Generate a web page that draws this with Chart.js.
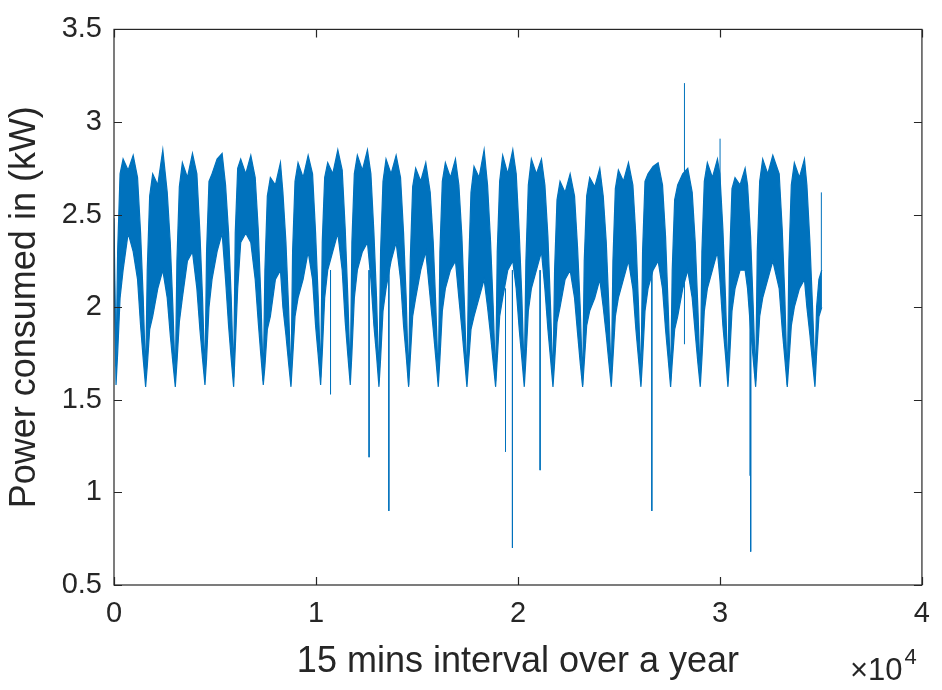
<!DOCTYPE html>
<html>
<head>
<meta charset="utf-8">
<script src="https://cdn.jsdelivr.net/npm/chart.js@4.4.0/dist/chart.umd.min.js"></script>
<style>
  html, body { margin: 0; padding: 0; background: #fff; }
</style>
</head>
<body>
<canvas id="powerChart" width="942" height="690"></canvas>
<script>
// tick values (x ticks are in units of 10^4 samples)
const xTicks = [0, 1, 2, 3, 4];
const yTicks = [0.5, 1, 1.5, 2, 2.5, 3, 3.5];

// outline of the dense load trace: sample index, upper edge, lower edge (kW)
// one row per weekly-ish cycle, starting at its dip
const bandX = [
    0,
    100, 180, 300, 450, 700, 950, 1166, 1316, 1446,
    1566, 1646, 1766, 1916, 2166, 2416, 2635, 2785, 2915,
    3035, 3115, 3235, 3385, 3635, 3885, 4103, 4253, 4383,
    4503, 4583, 4703, 4853, 5103, 5353, 5523, 5673, 5803,
    5923, 6003, 6123, 6273, 6523, 6773, 6991, 7141, 7271,
    7391, 7471, 7591, 7741, 7991, 8241, 8362, 8512, 8642,
    8762, 8842, 8962, 9112, 9362, 9612, 9830, 9980, 10110,
    10230, 10310, 10430, 10580, 10830, 11080, 11298, 11448, 11578,
    11698, 11778, 11898, 12048, 12298, 12548, 12718, 12868, 12998,
    13118, 13198, 13318, 13468, 13718, 13968, 14186, 14336, 14466,
    14586, 14666, 14786, 14936, 15186, 15436, 15655, 15805, 15935,
    16055, 16135, 16255, 16405, 16655, 16905, 17074, 17224, 17354,
    17474, 17554, 17674, 17824, 18074, 18324, 18494, 18644, 18774,
    18894, 18974, 19094, 19244, 19494, 19744, 19913, 20063, 20193,
    20313, 20393, 20513, 20663, 20913, 21163, 21333, 21483, 21613,
    21733, 21813, 21933, 22083, 22333, 22583, 22801, 22951, 23081,
    23201, 23281, 23401, 23551, 23801, 24051, 24221, 24371, 24501,
    24621, 24701, 24821, 24971, 25221, 25471, 25689, 25839, 25969,
    26089, 26169, 26289, 26439, 26689, 26939, 27157, 27307, 27437,
    27557, 27637, 27757, 27907, 28157, 28407, 28626, 28776, 28906,
    29026, 29106, 29226, 29376, 29626, 29876, 29996, 30146, 30276,
    30396, 30476, 30596, 30746, 30996, 31246, 31367, 31517, 31647,
    31767, 31847, 31967, 32117, 32367, 32617, 32933, 33083, 33213,
    33333, 33413, 33533, 33683, 33933, 34183, 34304, 34454, 34584,
    34704, 34784, 34900, 35040
];
const bandHigh = [
    2.48,
    1.68, 2.30, 2.72, 2.80, 2.74, 2.82, 2.70, 2.40, 2.05,
    1.62, 2.20, 2.60, 2.72, 2.66, 2.85, 2.62, 2.35, 2.00,
    1.60, 2.25, 2.65, 2.78, 2.70, 2.83, 2.72, 2.40, 2.05,
    1.62, 2.30, 2.68, 2.72, 2.80, 2.83, 2.66, 2.40, 2.05,
    1.62, 2.40, 2.75, 2.80, 2.72, 2.82, 2.70, 2.42, 2.05,
    1.60, 2.20, 2.60, 2.70, 2.66, 2.78, 2.62, 2.35, 2.00,
    1.60, 2.30, 2.68, 2.78, 2.70, 2.82, 2.72, 2.40, 2.05,
    1.62, 2.35, 2.70, 2.78, 2.72, 2.85, 2.74, 2.42, 2.05,
    1.62, 2.35, 2.72, 2.82, 2.74, 2.85, 2.72, 2.40, 2.05,
    1.60, 2.30, 2.68, 2.80, 2.72, 2.82, 2.70, 2.40, 2.05,
    1.58, 2.25, 2.65, 2.75, 2.68, 2.78, 2.62, 2.35, 2.00,
    1.60, 2.30, 2.68, 2.78, 2.70, 2.80, 2.66, 2.38, 2.00,
    1.60, 2.20, 2.62, 2.76, 2.70, 2.85, 2.66, 2.35, 2.00,
    1.60, 2.30, 2.68, 2.82, 2.72, 2.85, 2.72, 2.40, 2.05,
    1.62, 2.25, 2.66, 2.80, 2.72, 2.80, 2.66, 2.38, 2.00,
    1.60, 2.20, 2.58, 2.68, 2.62, 2.72, 2.60, 2.32, 2.00,
    1.58, 2.25, 2.60, 2.70, 2.65, 2.75, 2.60, 2.35, 2.00,
    1.60, 2.25, 2.64, 2.74, 2.68, 2.78, 2.66, 2.38, 2.00,
    1.60, 2.30, 2.68, 2.72, 2.76, 2.78, 2.66, 2.38, 2.00,
    1.60, 2.20, 2.58, 2.66, 2.72, 2.75, 2.62, 2.35, 2.00,
    1.60, 2.30, 2.68, 2.78, 2.70, 2.80, 2.72, 2.42, 2.05,
    1.60, 2.25, 2.64, 2.70, 2.66, 2.75, 2.66, 2.38, 2.00,
    1.60, 2.30, 2.68, 2.80, 2.72, 2.82, 2.72, 2.42, 2.05,
    1.58, 2.25, 2.66, 2.78, 2.70, 2.80, 2.66, 2.35, 2.00,
    1.65, 2.00, 2.15, 2.20
];
const bandLow = [
    2.30,
    1.58, 1.75, 2.05, 2.20, 2.40, 2.30, 2.15, 1.90, 1.72,
    1.57, 1.68, 1.88, 1.95, 2.10, 2.20, 2.05, 1.85, 1.70,
    1.57, 1.70, 1.92, 2.05, 2.25, 2.30, 2.10, 1.88, 1.72,
    1.58, 1.72, 2.00, 2.15, 2.30, 2.40, 2.15, 1.90, 1.72,
    1.57, 1.78, 2.10, 2.35, 2.40, 2.35, 2.15, 1.92, 1.74,
    1.58, 1.68, 1.88, 1.95, 2.15, 2.20, 2.00, 1.85, 1.70,
    1.57, 1.72, 1.95, 2.05, 2.15, 2.30, 2.15, 1.90, 1.74,
    1.58, 1.75, 2.05, 2.20, 2.30, 2.40, 2.20, 1.92, 1.74,
    1.58, 1.75, 2.05, 2.20, 2.30, 2.35, 2.15, 1.90, 1.74,
    1.57, 1.72, 1.98, 2.10, 2.25, 2.35, 2.15, 1.90, 1.74,
    1.57, 1.72, 1.95, 2.05, 2.20, 2.30, 2.05, 1.88, 1.72,
    1.57, 1.72, 1.98, 2.10, 2.20, 2.25, 2.05, 1.88, 1.72,
    1.57, 1.70, 1.88, 1.95, 2.05, 2.15, 2.00, 1.85, 1.70,
    1.57, 1.72, 1.95, 2.05, 2.20, 2.25, 2.10, 1.88, 1.72,
    1.57, 1.72, 1.98, 2.10, 2.20, 2.30, 2.10, 1.88, 1.72,
    1.57, 1.70, 1.92, 2.00, 2.15, 2.20, 2.05, 1.86, 1.70,
    1.57, 1.70, 1.90, 1.98, 2.05, 2.15, 2.00, 1.85, 1.70,
    1.57, 1.72, 1.95, 2.05, 2.15, 2.25, 2.10, 1.88, 1.72,
    1.57, 1.72, 1.98, 2.10, 2.20, 2.25, 2.10, 1.88, 1.72,
    1.57, 1.70, 1.88, 1.95, 2.10, 2.20, 2.05, 1.86, 1.70,
    1.57, 1.72, 1.98, 2.10, 2.20, 2.30, 2.15, 1.90, 1.74,
    1.57, 1.72, 1.98, 2.10, 2.20, 2.20, 2.10, 1.88, 1.72,
    1.57, 1.72, 1.95, 2.05, 2.15, 2.25, 2.10, 1.88, 1.72,
    1.57, 1.70, 1.90, 2.00, 2.10, 2.15, 2.00, 1.85, 1.70,
    1.57, 1.75, 1.95, 2.00
];

// single-sample outliers: where they leave the band and where they end
const spikeX    = [10720, 12628, 13607, 19383, 19726, 21096, 26627, 28243, 30005, 31500, 31522, 35020];
const spikeFrom = [2.20, 2.20, 2.20, 2.10, 2.20, 2.20, 2.20, 1.80, 2.30, 2.00, 2.00, 2.00];
const spikeTo   = [1.53, 1.19, 0.90, 1.22, 0.70, 1.12, 0.90, 3.21, 2.91, 1.09, 0.68, 2.62];

const lineBlue = 'rgb(0, 114, 189)';
const inkColor = '#262626';
const fontFamily = "'Liberation Sans', Arial, Helvetica, sans-serif";

let spikePoints = [];
spikeX.forEach((x, i) => {
    spikePoints.push({ x: x, y: spikeFrom[i] });
    spikePoints.push({ x: x, y: spikeTo[i] });
    spikePoints.push({ x: x, y: null });
});

// MATLAB style box with inward ticks and the x10^4 multiplier
const axesBoxPlugin = {
    id: 'axesBox',
    afterDatasetsDraw(chart) {
        const { ctx, chartArea: a, scales } = chart;
        const tick = 8;
        ctx.save();
        ctx.strokeStyle = inkColor;
        ctx.lineWidth = 1.2;
        ctx.strokeRect(a.left, a.top, a.right - a.left, a.bottom - a.top);
        ctx.beginPath();
        xTicks.forEach(t => {
            const px = Math.round(scales.x.getPixelForValue(t * 10000)) + 0.5;
            ctx.moveTo(px, a.bottom); ctx.lineTo(px, a.bottom - tick);
            ctx.moveTo(px, a.top); ctx.lineTo(px, a.top + tick);
        });
        yTicks.forEach(t => {
            const py = Math.round(scales.y.getPixelForValue(t)) + 0.5;
            ctx.moveTo(a.left, py); ctx.lineTo(a.left + tick, py);
            ctx.moveTo(a.right, py); ctx.lineTo(a.right - tick, py);
        });
        ctx.stroke();

        ctx.fillStyle = inkColor;
        ctx.textBaseline = 'alphabetic';
        ctx.font = '31px ' + fontFamily;
        const base = '\u00d710';
        const startX = 850;
        ctx.fillText(base, startX, 680);
        const w = ctx.measureText(base).width;
        ctx.font = '22px ' + fontFamily;
        ctx.fillText('4', startX + w + 2, 664);
        ctx.restore();
    }
};

new Chart(document.getElementById('powerChart'), {
    type: 'line',
    data: {
        datasets: [
            {
                label: 'low',
                data: bandX.map((x, i) => ({ x: x, y: bandLow[i] })),
                borderColor: lineBlue,
                borderWidth: 1.2,
                pointRadius: 0,
                fill: false
            },
            {
                label: 'high',
                data: bandX.map((x, i) => ({ x: x, y: bandHigh[i] })),
                borderColor: lineBlue,
                backgroundColor: lineBlue,
                borderWidth: 1.2,
                pointRadius: 0,
                fill: '-1'
            },
            {
                label: 'spikes',
                data: spikePoints,
                borderColor: lineBlue,
                borderWidth: 1,
                pointRadius: 0,
                spanGaps: false,
                fill: false
            }
        ]
    },
    options: {
        responsive: false,
        animation: false,
        devicePixelRatio: 1,
        layout: { padding: { top: 22, right: 11, left: 0, bottom: 0 } },
        plugins: {
            legend: { display: false },
            tooltip: { enabled: false }
        },
        scales: {
            x: {
                type: 'linear',
                min: 0,
                max: 40000,
                afterFit: s => { s.height = 105; },
                grid: { display: false, drawTicks: false },
                border: { display: false },
                ticks: {
                    stepSize: 10000,
                    autoSkip: false,
                    maxRotation: 0,
                    padding: 12,
                    color: inkColor,
                    font: { family: fontFamily, size: 29 },
                    callback: v => String(v / 10000)
                },
                title: {
                    display: true,
                    text: '15 mins interval over a year',
                    color: inkColor,
                    font: { family: fontFamily, size: 36 },
                    padding: { top: 0, bottom: 6 }
                }
            },
            y: {
                min: 0.5,
                max: 3.5,
                afterFit: s => { s.width = 114; },
                grid: { display: false, drawTicks: false },
                border: { display: false },
                ticks: {
                    stepSize: 0.5,
                    padding: 12,
                    color: inkColor,
                    font: { family: fontFamily, size: 29 },
                    callback: v => String(v)
                },
                title: {
                    display: true,
                    text: 'Power consumed in (kW)',
                    color: inkColor,
                    font: { family: fontFamily, size: 36 },
                    padding: { top: 3, bottom: 0 }
                }
            }
        }
    },
    plugins: [axesBoxPlugin]
});
</script>
</body>
</html>
